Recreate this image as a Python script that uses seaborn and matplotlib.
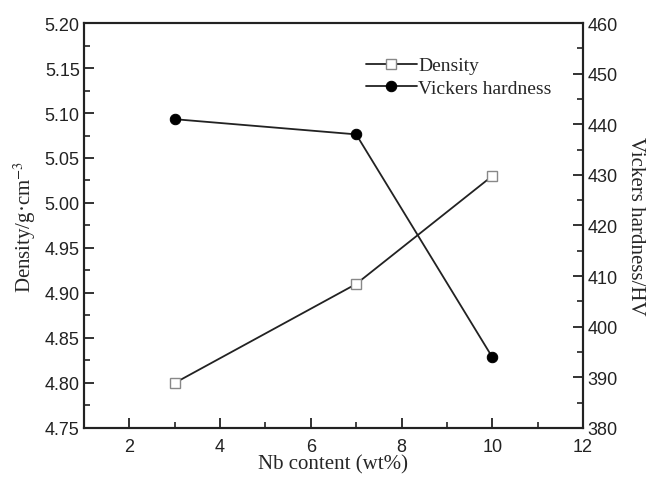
import matplotlib
matplotlib.use("Agg")
import matplotlib.pyplot as plt
import seaborn as sns
import pandas as pd
from matplotlib.ticker import MultipleLocator

nb_content = [3, 7, 10]
density = [4.80, 4.91, 5.03]
hardness = [441, 438, 394]

sns.set_style("ticks")
plt.rcParams['font.family'] = ['Liberation Sans', 'DejaVu Sans']
plt.rcParams['mathtext.fontset'] = 'stix'

df = pd.DataFrame({"nb": nb_content, "density": density, "hardness": hardness})

fig = plt.figure(figsize=(6.54, 4.85), dpi=100)
ax = fig.add_axes([0.1284, 0.1155, 0.763, 0.835])
ax2 = ax.twinx()

sns.lineplot(data=df, x="nb", y="density", ax=ax, color="#222222", lw=1.3,
             marker="s", markersize=6.5, markerfacecolor="white",
             markeredgecolor="#888888", markeredgewidth=1.0, label="Density", legend=False)
sns.lineplot(data=df, x="nb", y="hardness", ax=ax2, color="#222222", lw=1.3,
             marker="o", markersize=7.5, markerfacecolor="black",
             markeredgecolor="black", label="Vickers hardness", legend=False)

ax.set_xlim(1, 12)
ax.set_ylim(4.75, 5.20)
ax2.set_ylim(380, 460)
ax.xaxis.set_major_locator(MultipleLocator(2))
ax.xaxis.set_minor_locator(MultipleLocator(1))
ax.yaxis.set_major_locator(MultipleLocator(0.05))
ax.yaxis.set_minor_locator(MultipleLocator(0.025))
ax2.yaxis.set_major_locator(MultipleLocator(10))
ax2.yaxis.set_minor_locator(MultipleLocator(5))
ax.yaxis.set_major_formatter(matplotlib.ticker.FormatStrFormatter('%.2f'))

for a in (ax, ax2):
    for s in a.spines.values():
        s.set_linewidth(1.5)
        s.set_color("#222222")
    a.tick_params(which="major", direction="in", length=7, width=1.3, labelsize=13,
                  colors="#222222", pad=3)
    a.tick_params(which="minor", direction="in", length=4, width=1.2, colors="#222222")
ax.tick_params(axis='x', which='major', pad=7)
ax.tick_params(axis='both', which='both', top=False, right=False)
ax2.tick_params(axis='y', which='both', left=False, right=True)

ax.set_xlabel("Nb content (wt%)", family="Liberation Serif", fontsize=15, labelpad=0)
ax.set_ylabel("Density/g·cm$^{-3}$", family="Liberation Serif", fontsize=15, labelpad=5)
ax2.set_ylabel("Vickers hardness/HV", family="Liberation Serif", fontsize=15,
               rotation=270, labelpad=20)

h1, l1 = ax.get_legend_handles_labels()
h2, l2 = ax2.get_legend_handles_labels()
leg = ax2.legend(h1 + h2, l1 + l2, loc="upper left", bbox_to_anchor=(0.53, 0.96),
                 frameon=False, prop={"family": "Liberation Serif", "size": 14},
                 handlelength=2.6, handletextpad=0.1, labelspacing=0.25)

fig.savefig("out.png", dpi=100)
